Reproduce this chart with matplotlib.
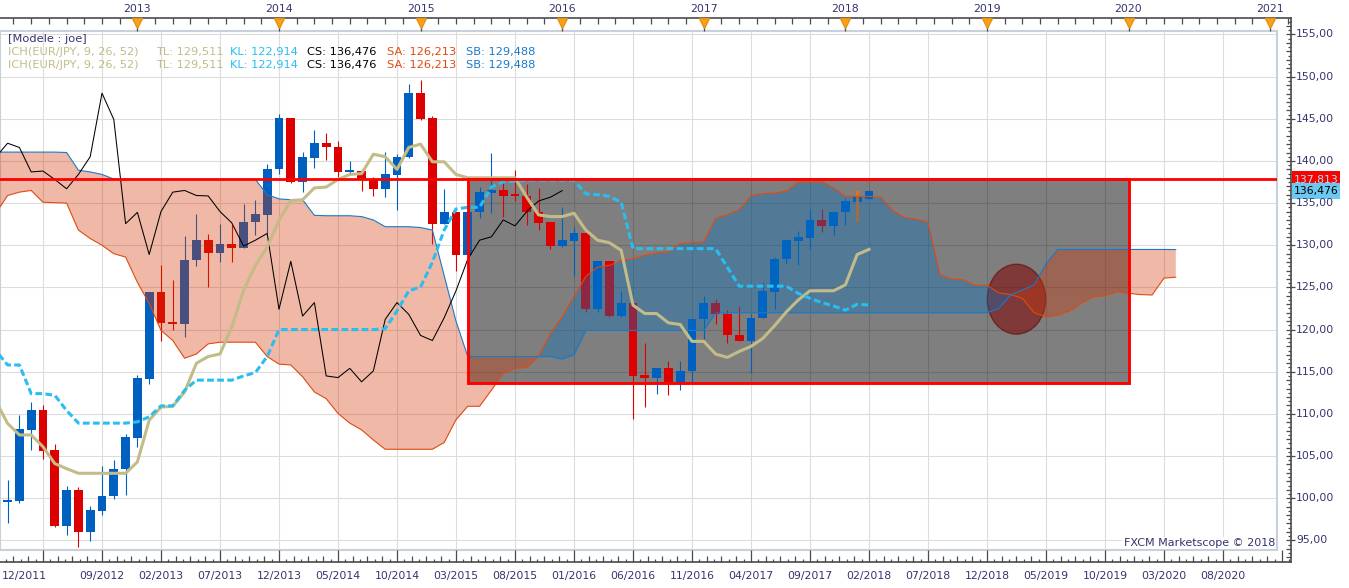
import numpy as np
import matplotlib
matplotlib.use('Agg')
import matplotlib.pyplot as plt
from matplotlib.patches import Rectangle, Ellipse
from matplotlib.transforms import blended_transform_factory as blend

# monthly EUR/JPY candles, index 0 = 12/2011
opens = np.array([104.4, 99.6, 99.7, 108.1, 110.4, 105.7, 96.7, 101.0, 96.0, 98.5,
                  100.2, 103.4, 107.1, 114.1, 124.5, 120.9, 120.6, 128.2, 130.6, 129.1,
                  130.2, 129.7, 132.8, 133.6, 139.0, 145.08, 137.5, 140.4, 142.1, 141.7,
                  138.7, 138.8, 137.8, 136.7, 138.3, 140.5, 148.04, 145.08, 132.56, 133.9,
                  128.8, 134.0, 136.25, 136.5, 136.05, 135.9, 134.0, 132.8, 129.9, 130.5,
                  131.4, 122.4, 128.1, 121.6, 123.2, 114.6, 114.3, 115.4, 113.8, 115.1,
                  121.2, 123.2, 121.8, 119.3, 118.7, 121.4, 124.5, 128.35, 130.5, 130.9,
                  133.0, 132.3, 134.0, 135.1, 135.5])
highs = np.array([104.8, 102.1, 109.85, 111.4, 111.0, 106.4, 101.5, 101.3, 99.1, 103.8,
                  104.5, 107.6, 114.6, 124.5, 127.6, 125.9, 131.05, 133.7, 131.3, 132.56,
                  132.36, 134.85, 135.4, 139.67, 145.6, 145.1, 141.1, 143.7, 143.3, 142.35,
                  140.0, 139.1, 138.1, 141.1, 140.85, 149.07, 149.6, 145.3, 136.7, 133.9,
                  134.1, 136.9, 141.0, 137.6, 138.9, 137.3, 136.8, 132.8, 134.5, 132.2,
                  131.4, 128.1, 128.1, 124.6, 123.2, 118.35, 115.4, 116.3, 116.3, 121.2,
                  124.0, 123.6, 122.3, 122.8, 121.9, 125.7, 128.6, 130.8, 131.7, 134.3,
                  134.35, 134.0, 135.6, 136.6, 136.6])
lows = np.array([99.3, 97.1, 99.4, 105.7, 104.7, 96.6, 95.6, 94.2, 94.9, 98.0,
                 99.9, 100.4, 106.1, 113.6, 118.7, 119.9, 119.1, 127.5, 125.05, 128.0,
                 128.0, 129.7, 131.2, 131.4, 138.5, 137.4, 136.3, 139.2, 140.1, 138.1,
                 138.5, 136.4, 135.8, 135.7, 134.2, 140.4, 144.8, 130.2, 132.5, 127.0,
                 126.3, 133.2, 133.8, 133.4, 135.2, 132.4, 131.8, 129.6, 129.8, 126.3,
                 122.1, 122.1, 121.5, 121.5, 109.35, 110.85, 112.4, 112.2, 112.8, 113.8,
                 118.9, 120.6, 118.4, 118.7, 114.9, 121.4, 122.4, 127.8, 127.7, 129.5,
                 131.6, 131.2, 132.4, 132.8, 135.5])
closes = np.array([99.6, 99.7, 108.2, 110.4, 105.6, 96.7, 101.0, 96.0, 98.6, 100.25,
                   103.45, 107.2, 114.3, 124.5, 120.8, 120.7, 128.3, 130.6, 129.1, 130.2,
                   129.7, 132.8, 133.7, 139.07, 145.08, 137.5, 140.46, 142.1, 141.6, 138.7,
                   138.8, 137.8, 136.7, 138.4, 140.5, 148.04, 144.92, 132.56, 133.9, 128.9,
                   134.0, 136.3, 136.5, 135.9, 135.85, 134.0, 132.65, 129.9, 130.6, 131.4,
                   122.4, 128.1, 121.6, 123.2, 114.5, 114.3, 115.4, 113.8, 115.1, 121.2,
                   123.2, 121.8, 119.3, 118.7, 121.4, 124.6, 128.35, 130.6, 131.0, 133.0,
                   132.3, 134.0, 135.25, 135.7, 136.476])
selected = 73  # candle drawn with orange wick

tenkan = np.array([111.5, 108.86, 107.5, 107.5, 106.1, 104.1, 103.5, 102.95, 102.95, 102.95,
                   102.95, 102.95, 104.3, 109.25, 110.8, 110.9, 112.6, 116.0, 116.8, 117.1,
                   120.3, 124.65, 127.6, 129.8, 132.95, 135.3, 135.4, 136.8, 136.9, 137.8,
                   138.4, 138.5, 140.8, 140.5, 139.0, 141.6, 142.0, 139.9, 139.9, 138.4,
                   138.0, 138.0, 138.0, 138.0, 138.0, 135.7, 133.6, 133.4, 133.4, 133.8,
                   131.8, 130.6, 130.3, 129.4, 122.9, 121.9, 121.9, 120.8, 120.6, 118.6,
                   118.6, 117.1, 116.7, 117.4, 118.0, 118.95, 120.45, 122.1, 123.5, 124.6,
                   124.6, 124.6, 125.3, 128.9, 129.511])
kijun = np.array([117.5, 115.8, 115.8, 112.4, 112.4, 112.2, 110.4, 108.9, 108.9, 108.9,
                  108.9, 108.9, 109.05, 109.65, 110.95, 110.95, 112.8, 114.0, 114.0, 114.0,
                  114.0, 114.5, 114.9, 116.8, 120.0, 120.0, 120.0, 120.0, 120.0, 120.0,
                  120.0, 120.0, 120.0, 120.1, 122.2, 124.6, 125.05, 128.0, 131.8, 134.3,
                  134.5, 134.5, 136.9, 137.5, 137.6, 137.7, 137.7, 137.7, 137.7, 137.7,
                  136.1, 136.0, 135.8, 135.1, 129.6, 129.6, 129.6, 129.6, 129.6, 129.6,
                  129.6, 129.6, 127.4, 125.15, 125.15, 125.15, 125.15, 125.15, 124.3, 123.7,
                  123.2, 122.8, 122.3, 123.0, 122.914])
span_a = np.array([133.8, 135.9, 136.3, 136.5, 135.1, 135.05, 135.0, 131.8, 130.8, 130.0,
                   129.0, 128.6, 125.6, 123.1, 119.9, 118.7, 116.6, 117.1, 118.3, 118.5,
                   118.5, 118.5, 118.5, 116.8, 115.9, 115.8, 114.4, 112.6, 111.8, 110.05,
                   108.9, 108.1, 106.9, 105.8, 105.8, 105.8, 105.8, 105.8, 106.6, 109.3,
                   110.9, 110.9, 112.8, 114.8, 115.4, 115.5, 116.8, 119.5, 121.5, 123.9,
                   126.3, 127.4, 127.6, 128.2, 128.4, 128.8, 129.1, 129.2, 130.2, 130.3,
                   130.4, 133.2, 133.6, 134.2, 135.9, 136.1, 136.2, 136.4, 137.5, 137.5,
                   137.5, 136.8, 135.8, 135.8, 135.8, 135.7, 134.1, 133.3, 133.1, 132.7,
                   126.5, 126.0, 125.9, 125.25, 125.25, 124.35, 124.15, 123.7, 122.0, 121.5,
                   121.7, 122.2, 123.1, 123.9, 124.0, 124.5, 124.3, 124.15, 124.1, 126.1,
                   126.213])
span_b = np.array([141.05, 141.05, 141.05, 141.05, 141.05, 141.05, 141.0, 138.9, 138.7, 138.4,
                   137.85, 137.8, 137.8, 137.8, 137.8, 137.8, 137.8, 137.8, 137.8, 137.8,
                   137.8, 137.8, 137.8, 136.0, 135.5, 135.4, 135.4, 133.55, 133.5, 133.5,
                   133.5, 133.4, 133.0, 132.2, 132.2, 132.2, 132.1, 131.8, 126.4, 121.0,
                   116.8, 116.8, 116.8, 116.8, 116.8, 116.8, 116.8, 116.8, 116.5, 117.0,
                   119.9, 119.9, 119.9, 119.9, 119.9, 119.9, 119.9, 119.9, 119.9, 119.9,
                   119.9, 121.95, 122.0, 122.0, 122.0, 122.0, 122.0, 122.0, 122.0, 122.0,
                   122.0, 122.0, 122.0, 122.0, 122.0, 122.0, 122.0, 122.0, 122.0, 122.0,
                   122.0, 122.0, 122.0, 122.0, 122.0, 122.5, 124.1, 124.7, 125.3, 127.8,
                   129.5, 129.5, 129.5, 129.5, 129.5, 129.5, 129.5, 129.5, 129.5, 129.5,
                   129.488])
chikou_shift = 26

level = 137.813
box_start, box_end = 40, 96
box_low = 113.62
circle_center = (86.5, 123.6)
circle_size = (4.95, 8.3)

price_ticks = np.arange(95, 156, 5)
price_labels = ['95,00', '100,00', '105,00', '110,00', '115,00', '120,00', '125,00',
                '130,00', '135,00', '140,00', '145,00', '150,00', '155,00']
month_pos = np.arange(9, 105, 5)
month_labels = ['09/2012', '02/2013', '07/2013', '12/2013', '05/2014', '10/2014', '03/2015',
                '08/2015', '01/2016', '06/2016', '11/2016', '04/2017', '09/2017', '02/2018',
                '07/2018', '12/2018', '05/2019', '10/2019', '03/2020', '08/2020']
year_pos = np.arange(12, 109, 12)
year_labels = ['2013', '2014', '2015', '2016', '2017', '2018', '2019', '2020', '2021']

navy = '#34346e'
c_up, c_dn = '#0060c0', '#dc0000'
c_tl, c_kl, c_sa, c_sb = '#c3bc88', '#28bef0', '#e04a10', '#1a7ac8'

W, H = 1349, 588
fig = plt.figure(figsize=(W / 100, H / 100), dpi=100, facecolor='white')

ax = fig.add_axes([0, 1 - 549.5 / H, 1277 / W, (549.5 - 30.7) / H])
ax.set_xlim(0.356, 108.58)
ax.set_ylim(93.91, 155.45)
ax.set_xticks(np.arange(4, 109, 5))
ax.set_yticks(price_ticks)
ax.grid(True, color='#dcdcdc', lw=0.8)
ax.set_axisbelow(True)
ax.tick_params(length=0, labelbottom=False, labelleft=False)
for s in ax.spines.values():
    s.set_color('#c8d0dc')
    s.set_linewidth(1.5)

# grey zone + circle
ax.add_patch(Rectangle((box_start, box_low), box_end - box_start, level - box_low,
                       facecolor='black', alpha=0.5, lw=0, zorder=1))
ax.add_patch(Ellipse(circle_center, *circle_size, facecolor='#800000', alpha=0.55,
                     edgecolor='#600000', lw=1, zorder=1.5))

# candles
m = np.arange(len(closes))
col = np.where(closes >= opens, c_up, c_dn)
body = np.maximum(np.abs(closes - opens), 0.18)
ax.vlines(m, lows, highs, colors=col, lw=0.8, zorder=2)
ax.bar(m, body, bottom=np.minimum(opens, closes), width=0.74, color=col, lw=0, zorder=2.1)
ax.vlines(selected, lows[selected], highs[selected], colors='#ff6a00', lw=2, zorder=2.2)

# cloud
mc = np.arange(len(span_a))
ax.fill_between(mc, span_a, span_b, where=span_a >= span_b, interpolate=True,
                color='#0070c0', alpha=0.35, lw=0, zorder=3)
ax.fill_between(mc, span_a, span_b, where=span_a < span_b, interpolate=True,
                color='#d43400', alpha=0.35, lw=0, zorder=3)
ax.plot(mc, span_a, color=c_sa, lw=0.8, zorder=4)
ax.plot(mc, span_b, color=c_sb, lw=0.8, zorder=4)

ax.plot(m[:-chikou_shift], closes[chikou_shift:], color='black', lw=0.75, zorder=5)
ax.plot(m, tenkan, color=c_tl, lw=2.2, zorder=5)
ax.plot(m, kijun, color=c_kl, lw=2.2, dashes=(2.2, 1.1), zorder=5)

ax.add_patch(Rectangle((box_start, box_low), box_end - box_start, level - box_low,
                       fill=False, edgecolor='#ff0000', lw=2.1, zorder=6))
ax.axhline(level, color='#ff0000', lw=2, zorder=6)

# rulers, labels and tags in pixel space
deco = fig.add_axes([0, 0, 1, 1])
deco.set_autoscale_on(False)
deco.set_xlim(0, W)
deco.set_ylim(H, 0)
deco.axis('off')
deco.patch.set_visible(False)
tx = blend(ax.transData, deco.transData)
ty = blend(deco.transData, ax.transData)
rc = '#4a4a4a'

deco.plot([0, 1291], [18.3, 18.3], color=rc, lw=1.2, clip_on=False)
deco.plot([0, 1291], [561.7, 561.7], color=rc, lw=1.2, clip_on=False)
deco.plot([1291, 1291], [18.3, 561.7], color=rc, lw=1.2, clip_on=False)

top_ticks = np.arange(1.5, 109.8, 1.5)
deco.vlines(top_ticks, 18.3, 23.5, colors=rc, lw=0.9, transform=tx)
deco.vlines(year_pos, 18.3, 30.7, colors=rc, lw=0.9, transform=tx)
deco.plot(year_pos, [22.6] * len(year_pos), 'v', ms=6.5, color='#f7a21b', mec='#e89010',
          transform=tx, clip_on=False)
for p, s in zip(year_pos, year_labels):
    deco.text(p, 9.3, s, transform=tx, ha='center', va='center', fontsize=7.8, color=navy)

sub = np.arange(-1, 109.8, 0.625)
for t in sub:
    k = int(round((t - 4) / 0.625)) % 8
    if t < 0.4:
        continue
    top = 549.5 if k == 0 else (555.7 if k % 2 == 0 else 558.7)
    deco.vlines(t, top, 561.7, colors=rc, lw=0.9, transform=tx)
for p, s in zip(month_pos, month_labels):
    deco.text(p, 575.5, s, transform=tx, ha='center', va='center', fontsize=7.8, color=navy)
deco.text(2, 575.5, '12/2011', ha='left', va='center', fontsize=7.8, color=navy)

for v in np.arange(93, 157, 0.5):
    if v % 5 == 0:
        deco.hlines(v, 1286, 1295, colors=rc, lw=0.9, transform=ty)
    elif v % 1 == 0:
        deco.hlines(v, 1286, 1291, colors=rc, lw=0.9, transform=ty)
    else:
        deco.hlines(v, 1288.3, 1291, colors=rc, lw=0.9, transform=ty)
for v, s in zip(price_ticks, price_labels):
    deco.text(1296, v, s, transform=ty, ha='left', va='center', fontsize=7.8, color=navy)

tag_h = 16 / 8.43
deco.add_patch(Rectangle((1292, level - tag_h / 2), 48, tag_h, transform=ty,
                         facecolor='#ff0000', lw=0, clip_on=False))
deco.text(1294, level - 0.05, '137,813', transform=ty, ha='left', va='center',
          fontsize=7.8, color='#8ff4ff')
deco.add_patch(Rectangle((1292, closes[-1] - tag_h / 2), 48, tag_h, transform=ty,
                         facecolor='#6cc8f0', lw=0, clip_on=False))
deco.text(1294, closes[-1], '136,476', transform=ty, ha='left', va='center',
          fontsize=7.8, color='black')

# header legend
fs = 8.2
deco.text(8, 39.3, '[Modele : joe]', fontsize=fs, color=navy, va='center')
for y in (52.3, 65.0):
    deco.text(8, y, 'ICH(EUR/JPY, 9, 26, 52)', fontsize=fs, color=c_tl, va='center')
    deco.text(156, y, 'TL: 129,511', fontsize=fs, color=c_tl, va='center')
    deco.text(230.4, y, 'KL: 122,914', fontsize=fs, color=c_kl, va='center')
    deco.text(307, y, 'CS: 136,476', fontsize=fs, color='black', va='center')
    deco.text(386.8, y, 'SA: 126,213', fontsize=fs, color=c_sa, va='center')
    deco.text(466, y, 'SB: 129,488', fontsize=fs, color=c_sb, va='center')

deco.text(1275, 543, 'FXCM Marketscope \u00a9 2018', ha='right', va='center', fontsize=8,
          color=navy, bbox=dict(facecolor='white', edgecolor='none', pad=1))

fig.savefig('out.png', dpi=100)
